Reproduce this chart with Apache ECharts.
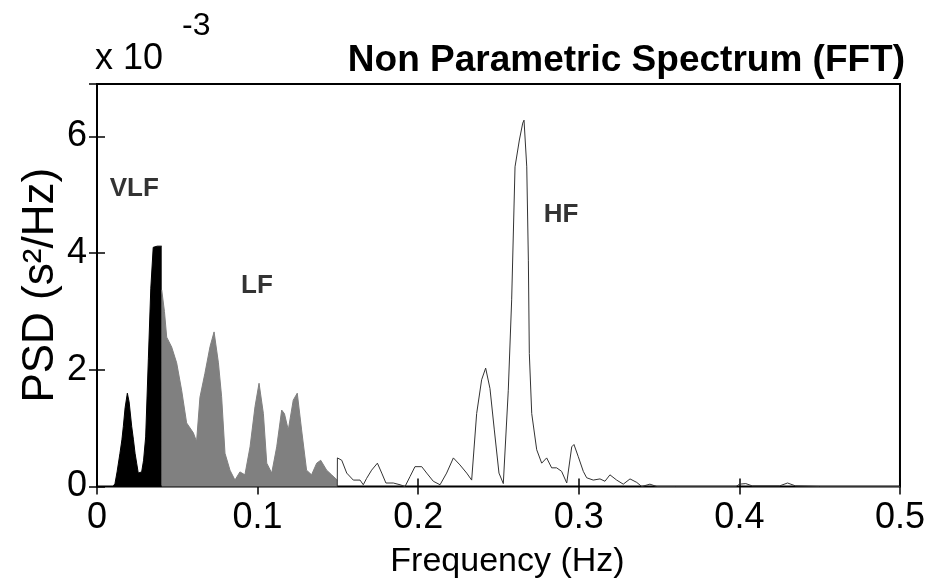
<!DOCTYPE html>
<html>
<head>
<meta charset="utf-8">
<script src="https://cdn.jsdelivr.net/npm/echarts@6/dist/echarts.min.js"></script>
<style>html,body{margin:0;padding:0;background:#fff;}#c{width:928px;height:585px;}</style>
</head>
<body>
<div id="c"></div>
<script>
// Frequencies (Hz) and PSD values (x 10^-3 s^2/Hz)
const vlfFreq = [0, 0.010, 0.0112, 0.0125, 0.0143, 0.0155, 0.0164, 0.0175, 0.0189, 0.0200, 0.0216, 0.0227, 0.0237, 0.0247, 0.0257, 0.0278, 0.0290, 0.0303, 0.0320, 0.0335, 0.0350, 0.0375, 0.0403];
const vlfPsd  = [0, 0, 0.05, 0.25, 0.57, 0.80, 1.03, 1.35, 1.60, 1.45, 1.03, 0.80, 0.57, 0.40, 0.23, 0.25, 0.45, 0.85, 2.20, 3.40, 4.10, 4.12, 4.12];

const lfFreq = [0.0403, 0.0420, 0.0434, 0.0465, 0.0496, 0.0527, 0.0558, 0.0600, 0.0620, 0.0641, 0.0672, 0.0704, 0.0729, 0.0756, 0.0776, 0.0797, 0.0828, 0.0859, 0.0890, 0.0921, 0.0953, 0.0984, 0.1009, 0.1036, 0.1057, 0.1088, 0.1119, 0.1150, 0.1167, 0.1191, 0.1222, 0.1247, 0.1274, 0.1305, 0.1336, 0.1368, 0.1393, 0.1430, 0.1461, 0.1496];
const lfPsd  = [3.37, 3.00, 2.56, 2.39, 2.12, 1.65, 1.09, 0.92, 0.77, 1.53, 1.94, 2.40, 2.65, 2.12, 1.54, 0.57, 0.28, 0.11, 0.25, 0.20, 0.68, 1.37, 1.77, 1.25, 0.40, 0.23, 0.68, 1.31, 1.25, 0.97, 1.48, 1.60, 0.97, 0.28, 0.20, 0.40, 0.45, 0.28, 0.20, 0.11];

const hfFreq = [0.1496, 0.1497, 0.1524, 0.1555, 0.1596, 0.1638, 0.1658, 0.1679, 0.1710, 0.1746, 0.1773, 0.1799, 0.1845, 0.1887, 0.1918, 0.1949, 0.1980, 0.2022, 0.2053, 0.2094, 0.2136, 0.2177, 0.2219, 0.2260, 0.2302, 0.2333, 0.2364, 0.2395, 0.2420, 0.2447, 0.2474, 0.2503, 0.2530, 0.2561, 0.2582, 0.2603, 0.2630, 0.2651, 0.2659, 0.2676, 0.2686, 0.2692, 0.2707, 0.2738, 0.2769, 0.2800, 0.2831, 0.2862, 0.2893, 0.2925, 0.2956, 0.2970, 0.2997, 0.3028, 0.3049, 0.3090, 0.3132, 0.3163, 0.3194, 0.3236, 0.3277, 0.3319, 0.3361, 0.3392, 0.3443, 0.3485, 0.3600, 0.3980, 0.4000, 0.4040, 0.4080, 0.4250, 0.4300, 0.4350, 0.4500, 0.5000];
const hfPsd  = [0.00, 0.49, 0.45, 0.23, 0.11, 0.11, 0.03, 0.14, 0.28, 0.40, 0.23, 0.06, 0.06, 0.03, 0.00, 0.17, 0.34, 0.34, 0.23, 0.09, 0.03, 0.23, 0.49, 0.37, 0.23, 0.11, 1.25, 1.83, 2.03, 1.68, 0.97, 0.23, 0.05, 1.65, 3.20, 5.48, 5.94, 6.23, 6.28, 5.48, 3.88, 2.28, 1.25, 0.63, 0.40, 0.49, 0.32, 0.32, 0.26, 0.06, 0.68, 0.72, 0.51, 0.26, 0.15, 0.11, 0.13, 0.09, 0.20, 0.11, 0.04, 0.13, 0.07, 0.00, 0.04, 0.00, 0.00, 0.00, 0.04, 0.05, 0.01, 0.01, 0.06, 0.01, 0.00, 0.00];

const xTicks = [0, 0.1, 0.2, 0.3, 0.4, 0.5];
const yTicks = [0, 2, 4, 6];

const bandLabels = ['VLF', 'LF', 'HF'];
const bandLabelFreq = [0.0232, 0.0996, 0.2890];
const bandLabelPsd = [5.10, 3.44, 4.65];

const zip = (a, b) => a.map((v, i) => [v, b[i]]);
const FONT = 'Liberation Sans, Arial, sans-serif';

const chart = echarts.init(document.getElementById('c'), null, {renderer: 'canvas'});
const axisCommonX = {
  type: 'value', min: xTicks[0], max: xTicks[xTicks.length - 1], interval: 0.1,
  splitLine: {show: false}, axisLine: {show: false},
  axisTick: {show: true, inside: true, length: 8, lineStyle: {color: '#000', width: 1.5}}
};
const axisCommonY = {
  type: 'value', min: 0, max: 6.9, interval: 2,
  splitLine: {show: false}, axisLine: {show: false},
  axisTick: {show: true, inside: true, length: 8, lineStyle: {color: '#000', width: 1.5}}
};
chart.setOption({
  animation: false,
  backgroundColor: '#fff',
  title: {
    text: 'Non Parametric Spectrum (FFT)',
    right: 18, top: 37,
    textStyle: {fontFamily: FONT, fontSize: 37, fontWeight: 'bold', color: '#000'}
  },
  grid: {left: 97, right: 28, top: 84, bottom: 98.5, show: true, borderColor: '#000', borderWidth: 2, backgroundColor: '#fff'},
  xAxis: [
    Object.assign({}, axisCommonX, {
      position: 'bottom',
      name: 'Frequency (Hz)', nameLocation: 'middle', nameGap: 58,
      nameTextStyle: {fontFamily: FONT, fontSize: 34, color: '#000', padding: [0, 0, 0, 18]},
      axisLabel: {fontFamily: FONT, fontSize: 36, color: '#000', margin: 14,
        formatter: v => xTicks.some(t => Math.abs(t - v) < 1e-9) ? String(v) : ''}
    }),
    Object.assign({}, axisCommonX, {position: 'top', axisLabel: {show: false}})
  ],
  yAxis: [
    Object.assign({}, axisCommonY, {
      position: 'left',
      name: 'PSD (s²/Hz)', nameLocation: 'middle', nameGap: 34, nameMoveOverlap: false,
      nameTextStyle: {fontFamily: FONT, fontSize: 44, color: '#000'},
      axisLabel: {fontFamily: FONT, fontSize: 36, color: '#000', margin: 10, showMaxLabel: false,
        formatter: v => yTicks.indexOf(v) >= 0 ? String(v) : ''}
    }),
    Object.assign({}, axisCommonY, {position: 'right', axisLabel: {show: false}})
  ],
  graphic: [
    {type: 'text', left: 95, top: 41, style: {text: 'x 10', font: '36px ' + FONT, fill: '#000'}},
    {type: 'text', left: 182, top: 10, style: {text: '-3', font: '32px ' + FONT, fill: '#000'}}
  ],
  series: [
    {
      name: 'VLF', type: 'line', data: zip(vlfFreq, vlfPsd), symbol: 'none',
      lineStyle: {width: 1, color: '#000'}, areaStyle: {color: '#000', opacity: 1}, z: 3
    },
    {
      name: 'LF', type: 'line', data: zip(lfFreq, lfPsd), symbol: 'none',
      lineStyle: {width: 1, color: '#808080'}, areaStyle: {color: '#808080', opacity: 1}, z: 3
    },
    {
      name: 'HF', type: 'line', data: zip(hfFreq, hfPsd), symbol: 'none',
      lineStyle: {width: 1, color: '#333'}, z: 4
    },
    {
      name: 'bands', type: 'scatter', symbolSize: 0,
      data: bandLabels.map((n, i) => ({name: n, value: [bandLabelFreq[i], bandLabelPsd[i]]})),
      label: {show: true, position: 'inside', formatter: p => p.name,
        fontFamily: FONT, fontSize: 26, fontWeight: 'bold', color: '#000'},
      z: 5
    }
  ]
});
</script>
</body>
</html>
